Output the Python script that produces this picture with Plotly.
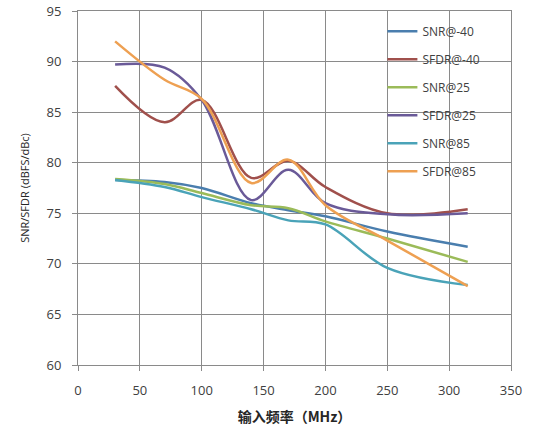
import plotly.graph_objects as go

# Input frequency (MHz)
freq = [30, 70, 100, 140, 170, 200, 250, 315]

# Measured SNR / SFDR at three temperatures
snr_m40 = [78.3, 78.1, 77.5, 76.0, 75.3, 74.7, 73.2, 71.7]
sfdr_m40 = [87.6, 84.0, 86.2, 78.5, 80.2, 77.6, 75.0, 75.4]
snr_25 = [78.4, 77.9, 77.0, 75.8, 75.5, 74.2, 72.5, 70.2]
sfdr_25 = [89.7, 89.4, 86.2, 76.3, 79.3, 76.0, 74.9, 75.0]
snr_85 = [78.3, 77.6, 76.6, 75.4, 74.3, 73.9, 69.6, 67.9]
sfdr_85 = [92.0, 88.2, 86.3, 78.0, 80.3, 75.8, 72.3, 67.8]

series = [
    ("SNR@-40", snr_m40, "#4a7eae"),
    ("SFDR@-40", sfdr_m40, "#a0504c"),
    ("SNR@25", snr_25, "#9bbb59"),
    ("SFDR@25", sfdr_25, "#6a5a98"),
    ("SNR@85", snr_85, "#4aa3b8"),
    ("SFDR@85", sfdr_85, "#eea052"),
]

x_ticks = [0, 50, 100, 150, 200, 250, 300, 350]
y_ticks = [60, 65, 70, 75, 80, 85, 90, 95]

fig = go.Figure()
for i, (name, vals, color) in enumerate(series):
    fig.add_trace(go.Scatter(
        x=freq, y=vals, name=name, mode="lines",
        line=dict(color=color, width=2.5, shape="spline", smoothing=1.0),
        legendgroup=f"g{i}",
    ))

axis_font = dict(family="Open Sans, sans-serif", size=13, color="#404040")
grid_color = "#8a8a8a"

fig.update_layout(
    width=533, height=431,
    margin=dict(l=78, r=22, t=11, b=66),
    paper_bgcolor="white", plot_bgcolor="white",
    showlegend=True,
    legend=dict(
        x=0.703, y=0.984, xanchor="left", yanchor="top",
        bgcolor="rgba(0,0,0,0)",
        font=dict(family="Open Sans, sans-serif", size=12, color="#404040"),
        tracegroupgap=9,
        itemwidth=30,
    ),
    xaxis=dict(
        range=[0, 350], tickvals=x_ticks, automargin=False,
        showgrid=True, gridcolor=grid_color, gridwidth=1,
        showline=True, linecolor=grid_color, mirror=True,
        ticks="outside", ticklen=5, tickcolor=grid_color,
        tickfont=axis_font, zeroline=False, ticklabelstandoff=8,
        title=dict(text="<b>输入频率（MHz）</b>",
                   font=dict(family="Noto Sans CJK SC", size=14, color="#262626"),
                   standoff=14),
    ),
    yaxis=dict(
        range=[60, 95], tickvals=y_ticks, automargin=False,
        showgrid=True, gridcolor=grid_color, gridwidth=1,
        showline=True, linecolor=grid_color, mirror=True,
        ticks="outside", ticklen=5, tickcolor=grid_color,
        tickfont=axis_font, zeroline=False, ticklabelstandoff=8,
        title=dict(text="SNR/SFDR (dBFS/dBc)",
                   font=dict(family="Open Sans, sans-serif", size=11, color="#262626"),
                   standoff=14),
    ),
)

fig.write_html("out.html")
